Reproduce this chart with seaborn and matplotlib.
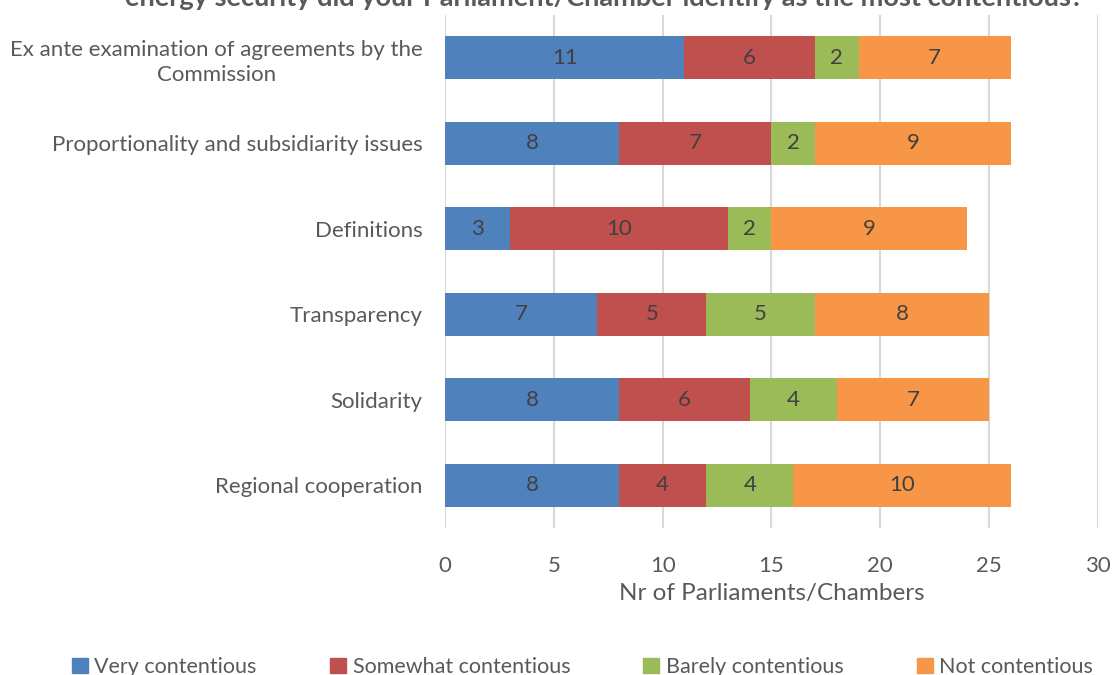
import numpy as np
import pandas as pd
import matplotlib
matplotlib.use('Agg')
import matplotlib.pyplot as plt
import seaborn as sns

# data
categories = ['Ex ante examination of agreements by the\nCommission',
              'Proportionality and subsidiarity issues',
              'Definitions',
              'Transparency',
              'Solidarity',
              'Regional cooperation']
very = [11, 8, 3, 7, 8, 8]
somewhat = [6, 7, 10, 5, 6, 4]
barely = [2, 2, 2, 5, 4, 4]
not_cont = [7, 9, 9, 8, 7, 10]

series_names = ['Very contentious', 'Somewhat contentious', 'Barely contentious', 'Not contentious']
colors = ['#4F81BD', '#C0504D', '#9BBB59', '#F79646']

sns.set_theme(style='white')
plt.rcParams['font.family'] = ['Lato', 'DejaVu Sans']
text_col = '#595959'

df = pd.DataFrame({'cat': categories, 'v1': very, 'v2': somewhat, 'v3': barely, 'v4': not_cont})
vals = df[['v1', 'v2', 'v3', 'v4']].to_numpy()
cum = np.cumsum(vals, axis=1)

fig = plt.figure(figsize=(11.13, 6.75), dpi=100)
ax = fig.add_axes([0.3998, 0.2178, 0.5867, 0.76])

# stacked bars: draw cumulative totals from the back to the front
for k in range(3, -1, -1):
    sns.barplot(x=cum[:, k], y=df['cat'], color=colors[k], orient='h',
                width=0.5, ax=ax, saturation=1, edgecolor='none', zorder=3)

# value labels in the middle of each segment
for i in range(len(categories)):
    for k in range(4):
        xc = cum[i, k] - vals[i, k] / 2
        ax.text(xc, i, str(vals[i, k]), ha='center', va='center',
                fontsize=16, color='#404040', zorder=4)

ax.set_xlim(0, 30)
ax.set_ylim(5.5, -0.5)
ax.set_xticks(range(0, 31, 5))
ax.grid(axis='x', color='#D9D9D9', linewidth=1.5, zorder=0)
ax.set_axisbelow(True)
for s in ax.spines.values():
    s.set_visible(False)
ax.tick_params(axis='both', length=0, labelsize=16, labelcolor=text_col)
ax.tick_params(axis='x', pad=20)
ax.tick_params(axis='y', pad=16)
for lab in ax.get_yticklabels():
    lab.set_multialignment('center')
    lab.set_linespacing(1.35)
ax.set_ylabel('')
ax.set_xlabel('Nr of Parliaments/Chambers', fontsize=17.5, color=text_col, labelpad=5)

# title: only its last line shows at the top edge, as in the source
fig.text(0.543, 1 - 6 / 675, 'energy security did your Parliament/Chamber identify as the most contentious?',
         ha='center', va='baseline', fontsize=19.5, fontweight='bold', color=text_col)

handles = [plt.Rectangle((0, 0), 1, 1, color=c) for c in colors]
fig.legend(handles, series_names, loc='center', bbox_to_anchor=(0.5234, 0.012), ncol=4,
           frameon=False, fontsize=15.5, handlelength=0.75, handleheight=0.75,
           handletextpad=0.3, columnspacing=3.4, labelcolor=text_col)

fig.savefig('out.png', dpi=100)
